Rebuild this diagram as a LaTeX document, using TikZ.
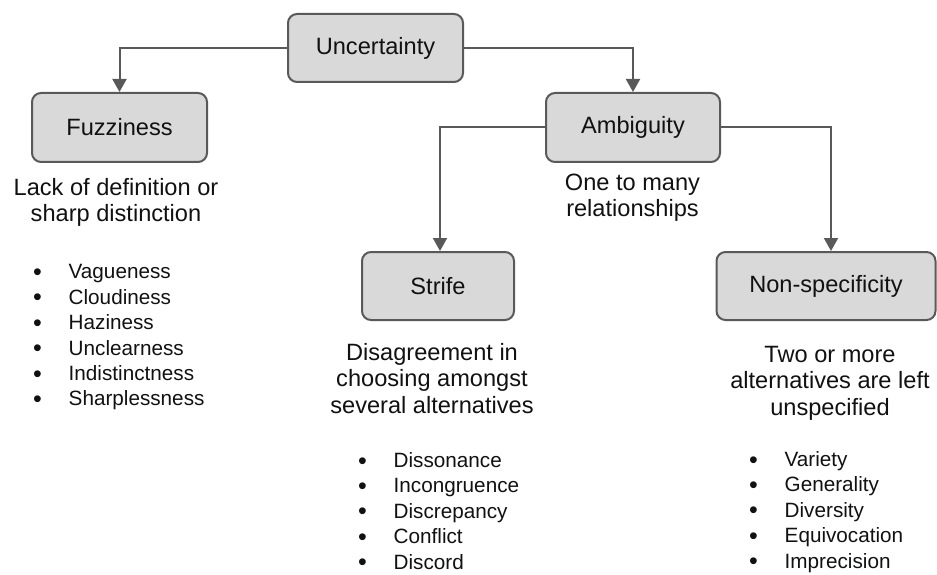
\documentclass[tikz,border=0pt]{standalone}
\usepackage{fontspec}
\setmainfont{Liberation Sans}
\usetikzlibrary{arrows.meta}
\definecolor{boxfill}{HTML}{D9D9D9}
\definecolor{edge}{HTML}{595959}
\definecolor{ink}{HTML}{111111}
% bullet set a little larger than the item text, in a fixed-width slot
\newcommand{\itembullet}{\makebox[35.5pt][l]{\raisebox{-1.6pt}{\fontsize{25}{25}\selectfont •}}}
\begin{document}
\begin{tikzpicture}[x=1pt,y=-1pt,
  catbox/.style={draw=edge, fill=boxfill, line width=2pt, rounded corners=9pt,
    inner sep=0pt, text=ink, font=\fontsize{23.6}{27}\selectfont},
  desc/.style={align=center, inner sep=0pt, text=ink, anchor=north,
    font=\fontsize{23.6}{26.5}\selectfont},
  itemlist/.style={align=left, inner sep=0pt, text=ink, anchor=north west,
    font=\fontsize{20.7}{25.4}\selectfont},
  link/.style={draw=edge, line width=2pt, -{Triangle[length=13pt,width=14pt]}}]
\useasboundingbox (0,0) rectangle (937,575);

% category boxes
\node[catbox, minimum width=175pt, minimum height=68pt] (unc) at (375.5,48) {Uncertainty};
\node[catbox, minimum width=175pt, minimum height=69pt] (fuz) at (119.5,127.5) {Fuzziness};
\node[catbox, minimum width=174pt, minimum height=69pt] (amb) at (633,127.5) {Ambiguity};
\node[catbox, minimum width=152pt, minimum height=68pt] (str) at (438,286) {Strife};
\node[catbox, minimum width=219pt, minimum height=68pt] (nsp) at (826,286) {Non-specificity};

% connectors
\draw[link] (unc.west) -| (fuz.north);
\draw[link] (unc.east) -| (amb.north);
\draw[link] (amb.west) -| ([xshift=2pt]str.north);
\draw[link] (amb.east) -| ([xshift=5pt]nsp.north);

% descriptions (a strut on the first line fixes the top edge above the baseline)
\node[desc] (fuzdesc) at (116,176.5) {\strut Lack of definition or\\sharp distinction};
\node[desc] (ambdesc) at (632.5,171.5) {\strut One to many\\relationships};
\node[desc] (strdesc) at (432,341.5) {\strut Disagreement in\\choosing amongst\\several alternatives};
\node[desc] (nspdesc) at (830,343.5) {\strut Two or more\\alternatives are left\\unspecified};

% item lists
\node[itemlist] (fuzlist) at (33,261) {\strut\itembullet Vagueness\\\itembullet Cloudiness\\\itembullet Haziness\\\itembullet Unclearness\\\itembullet Indistinctness\\\itembullet Sharplessness};
\node[itemlist] (strlist) at (358,449.5) {\strut\itembullet Dissonance\\\itembullet Incongruence\\\itembullet Discrepancy\\\itembullet Conflict\\\itembullet Discord};
\node[itemlist] (nsplist) at (749,448.5) {\strut\itembullet Variety\\\itembullet Generality\\\itembullet Diversity\\\itembullet Equivocation\\\itembullet Imprecision};
\end{tikzpicture}
\end{document}
